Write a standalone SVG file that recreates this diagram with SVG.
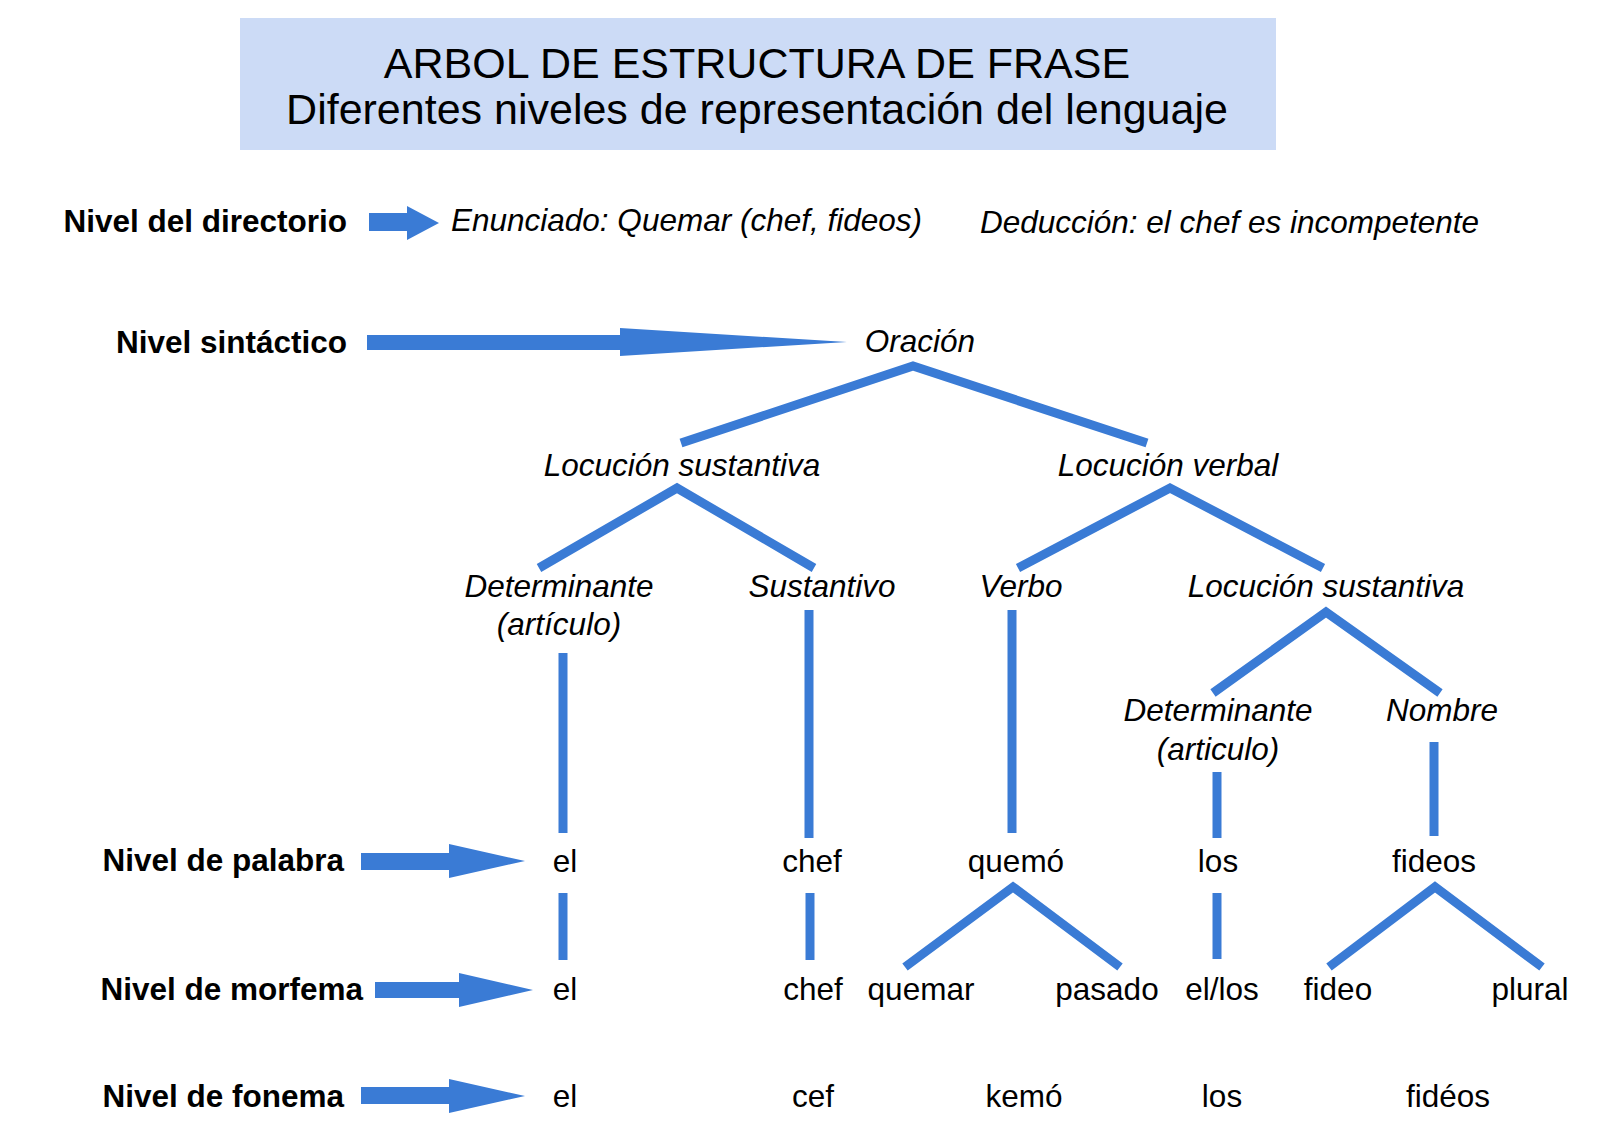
<svg xmlns="http://www.w3.org/2000/svg" width="1600" height="1138" viewBox="0 0 1600 1138">
<style>
text{font-family:"Liberation Sans",Arial,sans-serif;font-size:31.5px;fill:#000}
.t{font-size:43px}
.b{font-weight:bold;text-anchor:end}
.i{font-style:italic;text-anchor:middle}
.w{text-anchor:middle}
.ln{fill:none;stroke:#3a7bd5;stroke-width:9;stroke-linecap:butt;stroke-linejoin:miter}
.ar{fill:#3a7bd5}
</style>
<rect width="1600" height="1138" fill="#fff"/>
<g id="title">
<rect x="240" y="18" width="1036" height="132" fill="#ccdbf6"/>
<text class="t w" x="757" y="78">ARBOL DE ESTRUCTURA DE FRASE</text>
<text class="t w" x="757" y="124">Diferentes niveles de representación del lenguaje</text>
</g>
<g id="levels">
<text class="b" x="347" y="232">Nivel del directorio</text>
<text class="b" x="347" y="353">Nivel sintáctico</text>
<text class="b" x="344" y="871">Nivel de palabra</text>
<text class="b" x="363" y="1000">Nivel de morfema</text>
<text class="b" x="344" y="1107">Nivel de fonema</text>
</g>
<g id="arrows">
<polygon class="ar" points="369,213 407,213 407,206 439,223 407,240 407,231 369,231"/>
<polygon class="ar" points="367,335 620,335 620,328 847,342 620,356 620,350 367,350"/>
<polygon class="ar" points="361,853 449,853 449,844 525,861 449,878 449,870 361,870"/>
<polygon class="ar" points="375,982 459,982 459,973 533,990 459,1007 459,998 375,998"/>
<polygon class="ar" points="361,1087 449,1087 449,1079 525,1096 449,1113 449,1104 361,1104"/>
</g>
<g id="directorio">
<text x="451" y="231" font-style="italic">Enunciado: Quemar (chef, fideos)</text>
<text x="980" y="233" font-style="italic">Deducción: el chef es incompetente</text>
</g>
<g id="connectors">
<polyline class="ln" points="681,443 913,366 1147,443"/>
<polyline class="ln" points="539,568 677,488 814,568"/>
<polyline class="ln" points="1018,568 1170,488 1323,568"/>
<polyline class="ln" points="1213,693 1326,612 1440,693"/>
<line class="ln" x1="563" y1="653" x2="563" y2="833"/>
<line class="ln" x1="809" y1="610" x2="809" y2="838"/>
<line class="ln" x1="1012" y1="610" x2="1012" y2="833"/>
<line class="ln" x1="1217" y1="772" x2="1217" y2="838"/>
<line class="ln" x1="1434" y1="742" x2="1434" y2="836"/>
<line class="ln" x1="563" y1="893" x2="563" y2="960"/>
<line class="ln" x1="810" y1="893" x2="810" y2="960"/>
<line class="ln" x1="1217" y1="893" x2="1217" y2="959"/>
<polyline class="ln" points="905,967 1013,887 1120,967"/>
<polyline class="ln" points="1329,967 1435,887 1542,967"/>
</g>
<g id="n-oracion"><text class="i" x="920" y="352">Oración</text></g>
<g id="n-ls1"><text class="i" x="682" y="476">Locución sustantiva</text></g>
<g id="n-lv"><text class="i" x="1168" y="476">Locución verbal</text></g>
<g id="n-det1"><text class="i" x="559" y="597">Determinante</text><text class="i" x="559" y="635">(artículo)</text></g>
<g id="n-sust"><text class="i" x="822" y="597">Sustantivo</text></g>
<g id="n-verbo"><text class="i" x="1021" y="597">Verbo</text></g>
<g id="n-ls2"><text class="i" x="1326" y="597">Locución sustantiva</text></g>
<g id="n-det2"><text class="i" x="1218" y="721">Determinante</text><text class="i" x="1218" y="760">(articulo)</text></g>
<g id="n-nombre"><text class="i" x="1442" y="721">Nombre</text></g>
<g id="palabra">
<text class="w" x="565" y="872">el</text>
<text class="w" x="812" y="872">chef</text>
<text class="w" x="1016" y="872">quemó</text>
<text class="w" x="1218" y="872">los</text>
<text class="w" x="1434" y="872">fideos</text>
</g>
<g id="morfema">
<text class="w" x="565" y="1000">el</text>
<text class="w" x="813" y="1000">chef</text>
<text class="w" x="921" y="1000">quemar</text>
<text class="w" x="1107" y="1000">pasado</text>
<text class="w" x="1222" y="1000">el/los</text>
<text class="w" x="1338" y="1000">fideo</text>
<text class="w" x="1530" y="1000">plural</text>
</g>
<g id="fonema">
<text class="w" x="565" y="1107">el</text>
<text class="w" x="813" y="1107">cef</text>
<text class="w" x="1024" y="1107">kemó</text>
<text class="w" x="1222" y="1107">los</text>
<text class="w" x="1448" y="1107">fidéos</text>
</g>
</svg>
